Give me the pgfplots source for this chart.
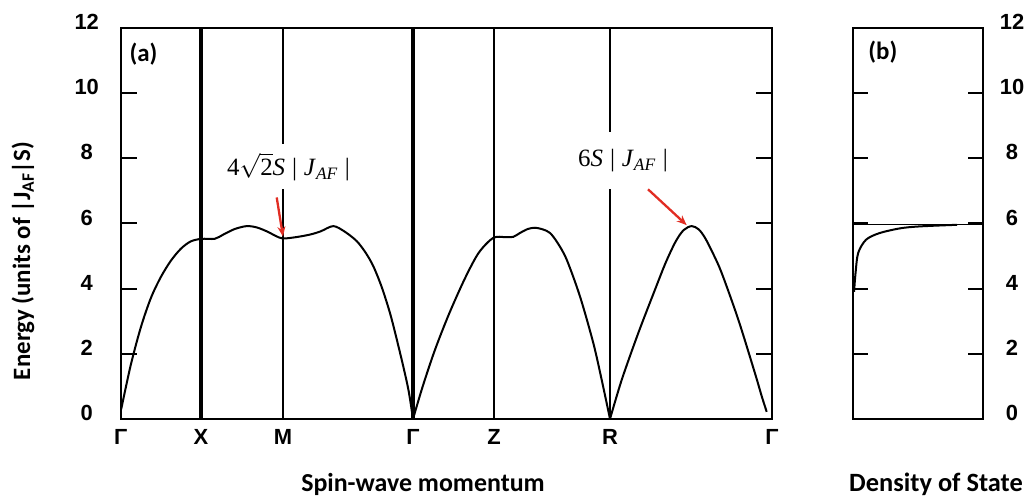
\documentclass[border=0pt]{standalone}
\usepackage{fontspec}
\setmainfont{Carlito}
\newfontfamily\arialfont{Liberation Sans}
\newfontfamily\timesfont{Liberation Serif}
\usepackage{pgfplots}
\pgfplotsset{compat=1.18}
\usetikzlibrary{arrows.meta}
\definecolor{arrowred}{RGB}{225,45,35}

\pgfplotsset{
  panel/.style={
    scale only axis, height=391bp, ymin=0, ymax=12,
    axis line style={line width=2bp},
    ytick={0,2,...,12}, ytick pos=both, tick align=inside,
    ytick style={line width=2bp, black},
    tick label style={font=\arialfont\bfseries\fontsize{22}{22}\selectfont},
    /pgf/number format/assume math mode=true,
    clip=false,
  },
}

\begin{document}
\begin{tikzpicture}
\useasboundingbox (0,0) rectangle (1030bp,501bp);

% (a) dispersion along the high-symmetry path
\begin{axis}[panel,
  at={(120.7bp,82bp)}, anchor=south west, width=651.3bp,
  xmin=0, xmax=651.3,
  xtick={0,80.3,162.3,292.3,373.3,489.3,651.3},
  xticklabels={Γ,X,M,Γ,Z,R,Γ},
  xtick style={draw=none},
  yticklabel pos=left,
  major tick length=16bp,
  yticklabel style={anchor=center, xshift=-34bp, yshift=6bp},
  xticklabel style={anchor=center, yshift=-18bp},
]
% path markers
\addplot[line width=3.3bp] coordinates {(80.3,0) (80.3,12)};
\addplot[line width=3.3bp] coordinates {(292.3,0) (292.3,12)};
\addplot[line width=1.8bp] coordinates {(162.3,0) (162.3,12)};
\addplot[line width=1.8bp] coordinates {(373.3,0) (373.3,12)};
\addplot[line width=1.8bp] coordinates {(489.3,0) (489.3,12)};

% Gamma - X - M - Gamma
\addplot[line width=2bp, smooth, tension=0.5] coordinates {
 (0.5,0.3) (10,1.65) (20,2.8) (30,3.7) (40,4.35) (50,4.85) (60,5.22) (70,5.45)
 (81,5.53) (94,5.53) (102.6,5.66) (114,5.83) (126,5.92) (136,5.88)
 (146,5.76) (155,5.62) (162,5.54) (175,5.58) (189.3,5.66) (200,5.76) (212.6,5.92)
 (224,5.75) (236,5.46) (245,5.1) (252.6,4.69) (261,4.05) (269.3,3.25) (276,2.45)
 (282.6,1.61) (288,0.85) (292.3,0.0)};
% Gamma - Z - R
\addplot[line width=2bp, smooth, tension=0.5] coordinates {
 (292.3,0) (302,1.0) (314,2.1) (328,3.2) (344,4.3) (358,5.1) (372.6,5.56)
 (385,5.58) (392.6,5.59) (399.3,5.71) (407,5.83) (414.3,5.87) (422,5.82) (429.3,5.71)
 (437,5.4) (446,4.89) (459.3,3.76) (472.6,2.33) (481,1.2) (489.3,0)};
% R - Gamma
\addplot[line width=2bp, smooth, tension=0.5] coordinates {
 (489.3,0) (501,1.2) (517.6,2.64) (534.3,3.97) (545,4.8) (555,5.45) (563,5.8)
 (571,5.92) (578,5.82) (584.3,5.56) (592,5.1) (601,4.48) (617.6,3.05) (634.3,1.4)
 (641,0.7) (646,0.22)};

\node[font=\bfseries\fontsize{25}{25}\selectfont] at (axis cs:22.8,11.2) {(a)};

\node[fill=white, inner xsep=2bp, minimum height=45bp,
      font=\timesfont\fontsize{25}{25}\selectfont] at (axis cs:167.8,7.74)
  {4$\sqrt{\mbox{2}}$\textit{S}\;|\;\textit{J}\textsubscript{\textit{AF}}\;|};
\node[fill=white, inner xsep=2bp, minimum height=57bp,
      font=\timesfont\fontsize{25}{25}\selectfont] at (axis cs:502.3,7.93)
  {6\textit{S}\;|\;\textit{J}\textsubscript{\textit{AF}}\;|};

\draw[arrowred, line width=2.3bp, -{Stealth[length=10bp,width=8bp]}]
  (axis cs:156,6.8) -- (axis cs:162.3,5.6);
\draw[arrowred, line width=2.3bp, -{Stealth[length=10bp,width=8bp]}]
  (axis cs:527.3,7.05) -- (axis cs:566,5.95);
\end{axis}

% (b) density of states
\begin{axis}[panel,
  at={(853bp,82bp)}, anchor=south west, width=130bp,
  xmin=0, xmax=1, xtick=\empty,
  yticklabel pos=right,
  major tick length=15bp,
  yticklabel style={anchor=center, xshift=29bp, yshift=6bp},
]
\addplot[line width=1.3bp] coordinates {(0,5.97) (1,5.97)};
\addplot[line width=2bp, smooth, tension=0.5] coordinates {
 (0.008,3.9) (0.02,4.5) (0.04,5.1) (0.1,5.5) (0.2,5.7) (0.36,5.85) (0.51,5.91) (0.8,5.96)};
\node[font=\bfseries\fontsize{25}{25}\selectfont] at (axis cs:0.23,11.25) {(b)};
\end{axis}

% axis titles
\node[rotate=90, font=\bfseries\fontsize{25}{25}\selectfont] at (23bp,240bp)
  {Energy (units of |J\textsubscript{AF}|S)};
\node[font=\bfseries\fontsize{26}{26}\selectfont] at (423bp,17bp) {Spin-wave momentum};
\node[font=\bfseries\fontsize{26.5}{26.5}\selectfont] at (936bp,17bp) {Density of State};
\end{tikzpicture}
\end{document}
